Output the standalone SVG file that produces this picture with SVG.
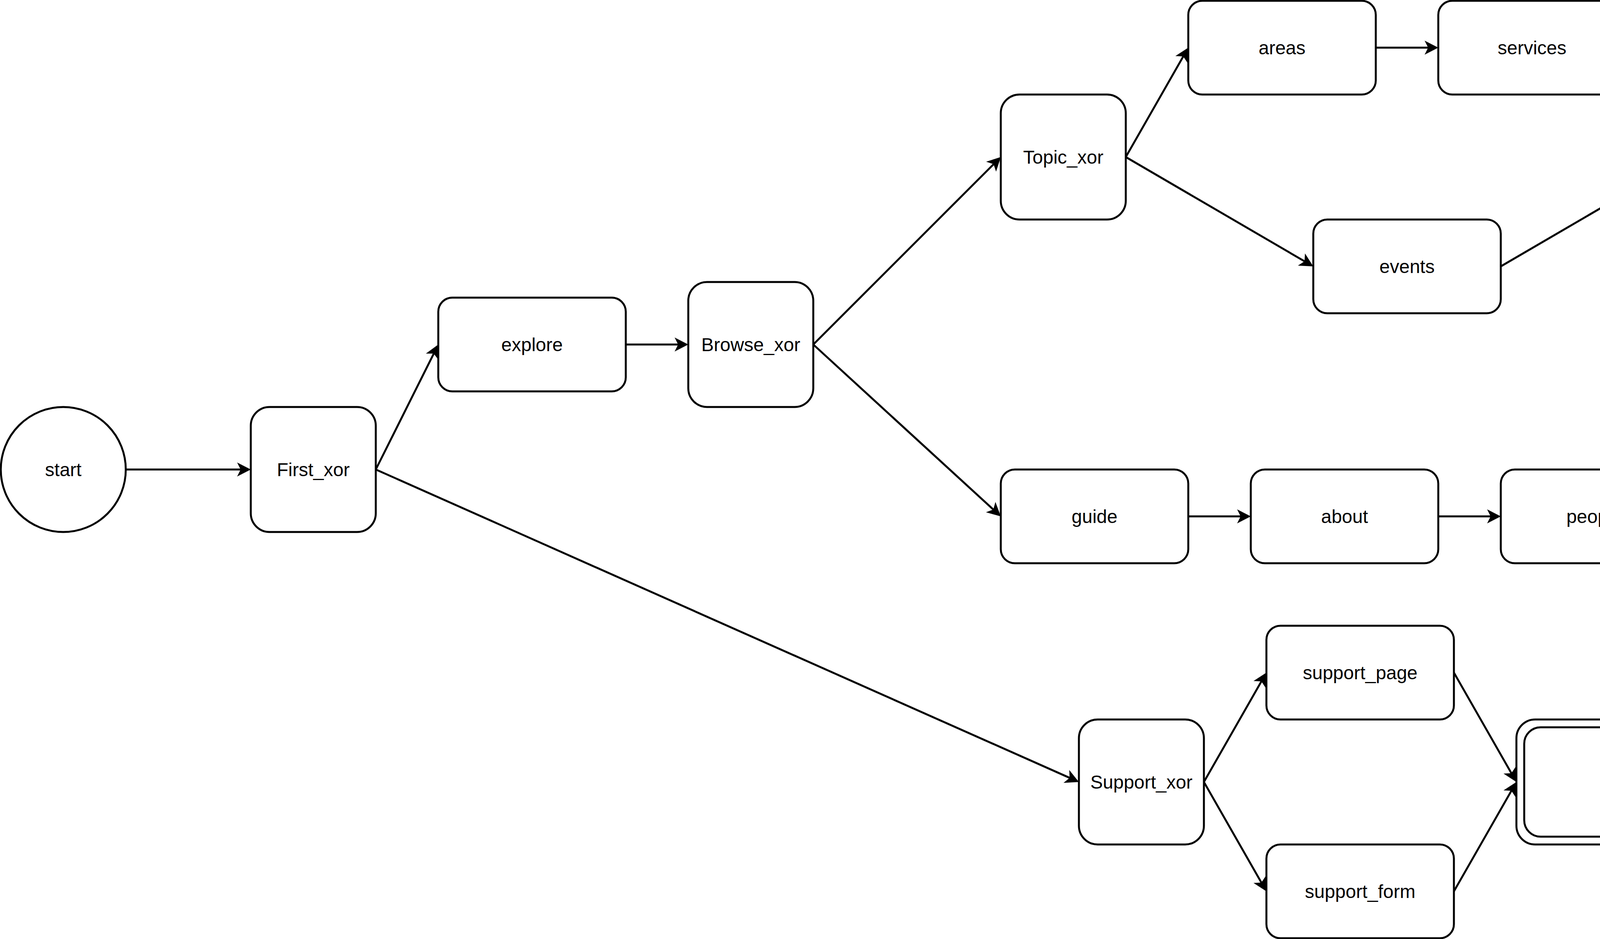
<svg xmlns="http://www.w3.org/2000/svg" width="7848" height="2404" viewBox="0 0 7848 2404">
<style>
.box{fill:#ffffff;stroke:#000000;stroke-width:5}
.lbl{font-family:"Liberation Sans",Arial,Helvetica,sans-serif;font-size:48px;fill:#000000;text-anchor:middle}
.edge{fill:none;stroke:#000000;stroke-width:5;marker-end:url(#arrow)}
</style>
<defs>
<marker id="arrow" markerUnits="userSpaceOnUse" viewBox="-12 -20 42 40" refX="0" refY="0" markerWidth="42" markerHeight="40" orient="auto" overflow="visible">
<path d="M26,0 L-9,-18 L0,0 L-9,18 Z" fill="#000000"/>
</marker>
</defs>
<rect x="0" y="0" width="7848" height="2404" fill="#ffffff"/>
<g id="connectors">
<path class="edge" d="M322,1202 L616,1202"/>
<path class="edge" d="M962,1202 L1110.4,905.3"/>
<path class="edge" d="M962,1202 L2738.2,1991.4"/>
<path class="edge" d="M1602,882 L1736,882"/>
<path class="edge" d="M2082,882 L2543.6,420.4"/>
<path class="edge" d="M2082,882 L2542.8,1304.4"/>
<path class="edge" d="M2882,402 L3029.1,144.6"/>
<path class="edge" d="M2882,402 L3339.5,668.9"/>
<path class="edge" d="M3522,122 L3656,122"/>
<path class="edge" d="M4162,122 L4309.1,379.4"/>
<path class="edge" d="M3842,682 L4299.5,415.1"/>
<path class="edge" d="M4642,402 L4793.8,857.3"/>
<path class="edge" d="M3042,1322 L3176,1322"/>
<path class="edge" d="M3682,1322 L3816,1322"/>
<path class="edge" d="M4322,1322 L4782.8,899.6"/>
<path class="edge" d="M5122,882 L5256,882"/>
<path class="edge" d="M5602,882 L5749.1,624.6"/>
<path class="edge" d="M5602,882 L5749.1,1139.4"/>
<path class="edge" d="M6242,602 L6389.1,859.4"/>
<path class="edge" d="M6242,1162 L6389.1,904.6"/>
<path class="edge" d="M6722,882 L6870.4,1178.7"/>
<path class="edge" d="M7202,1202 L7496,1202"/>
<path class="edge" d="M3082,2002 L3229.1,1744.6"/>
<path class="edge" d="M3082,2002 L3229.1,2259.4"/>
<path class="edge" d="M3722,1722 L3869.1,1979.4"/>
<path class="edge" d="M3722,2282 L3869.1,2024.6"/>
<path class="edge" d="M4202,2002 L6857.1,1209.4"/>
</g>
<g id="start"><circle class="box" cx="162" cy="1202" r="160"/><text class="lbl" x="162" y="1219">start</text></g>
<g id="First_xor"><rect class="box" x="642" y="1042" width="320" height="320" rx="48" ry="48"/><text class="lbl" x="802" y="1219">First_xor</text></g>
<g id="explore"><rect class="box" x="1122" y="762" width="480" height="240" rx="36" ry="36"/><text class="lbl" x="1362" y="899">explore</text></g>
<g id="Browse_xor"><rect class="box" x="1762" y="722" width="320" height="320" rx="48" ry="48"/><text class="lbl" x="1922" y="899">Browse_xor</text></g>
<g id="Topic_xor"><rect class="box" x="2562" y="242" width="320" height="320" rx="48" ry="48"/><text class="lbl" x="2722" y="419">Topic_xor</text></g>
<g id="areas"><rect class="box" x="3042" y="2" width="480" height="240" rx="36" ry="36"/><text class="lbl" x="3282" y="139">areas</text></g>
<g id="services"><rect class="box" x="3682" y="2" width="480" height="240" rx="36" ry="36"/><text class="lbl" x="3922" y="139">services</text></g>
<g id="events"><rect class="box" x="3362" y="562" width="480" height="240" rx="36" ry="36"/><text class="lbl" x="3602" y="699">events</text></g>
<g id="join1"><rect class="box" x="4322" y="242" width="320" height="320" rx="48" ry="48"/><rect class="box" x="4342" y="262" width="280" height="280" rx="42" ry="42"/></g>
<g id="guide"><rect class="box" x="2562" y="1202" width="480" height="240" rx="36" ry="36"/><text class="lbl" x="2802" y="1339">guide</text></g>
<g id="about"><rect class="box" x="3202" y="1202" width="480" height="240" rx="36" ry="36"/><text class="lbl" x="3442" y="1339">about</text></g>
<g id="people"><rect class="box" x="3842" y="1202" width="480" height="240" rx="36" ry="36"/><text class="lbl" x="4082" y="1339">people</text></g>
<g id="join2"><rect class="box" x="4802" y="722" width="320" height="320" rx="48" ry="48"/><rect class="box" x="4822" y="742" width="280" height="280" rx="42" ry="42"/></g>
<g id="Contact_xor"><rect class="box" x="5282" y="722" width="320" height="320" rx="48" ry="48"/><text class="lbl" x="5442" y="899">Contact_xor</text></g>
<g id="contact_page"><rect class="box" x="5762" y="482" width="480" height="240" rx="36" ry="36"/><text class="lbl" x="6002" y="619">contact_page</text></g>
<g id="contact_form"><rect class="box" x="5762" y="1042" width="480" height="240" rx="36" ry="36"/><text class="lbl" x="6002" y="1179">contact_form</text></g>
<g id="join3"><rect class="box" x="6402" y="722" width="320" height="320" rx="48" ry="48"/><rect class="box" x="6422" y="742" width="280" height="280" rx="42" ry="42"/></g>
<g id="join4"><rect class="box" x="6882" y="1042" width="320" height="320" rx="48" ry="48"/><rect class="box" x="6902" y="1062" width="280" height="280" rx="42" ry="42"/></g>
<g id="end"><circle class="box" cx="7682" cy="1202" r="160"/><text class="lbl" x="7682" y="1219">end</text></g>
<g id="Support_xor"><rect class="box" x="2762" y="1842" width="320" height="320" rx="48" ry="48"/><text class="lbl" x="2922" y="2019">Support_xor</text></g>
<g id="support_page"><rect class="box" x="3242" y="1602" width="480" height="240" rx="36" ry="36"/><text class="lbl" x="3482" y="1739">support_page</text></g>
<g id="support_form"><rect class="box" x="3242" y="2162" width="480" height="240" rx="36" ry="36"/><text class="lbl" x="3482" y="2299">support_form</text></g>
<g id="join5"><rect class="box" x="3882" y="1842" width="320" height="320" rx="48" ry="48"/><rect class="box" x="3902" y="1862" width="280" height="280" rx="42" ry="42"/></g>
</svg>
